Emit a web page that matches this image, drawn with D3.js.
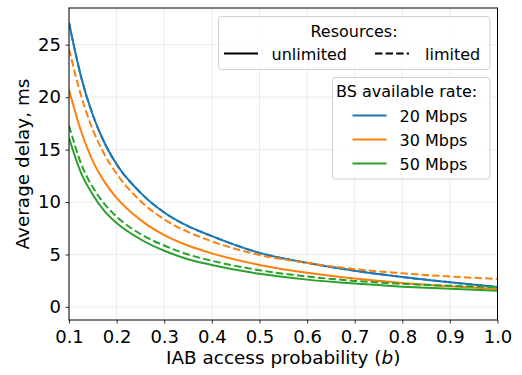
<!DOCTYPE html>
<html>
<head>
<meta charset="utf-8">
<script src="https://cdn.jsdelivr.net/npm/d3@7"></script>
<style>
  body { margin: 0; background: #fff; }
  svg { font-family: "DejaVu Sans", sans-serif; }
</style>
</head>
<body>
<div id="chart"></div>
<script>
// IAB access probability samples
const probs = [0.1, 0.125, 0.15, 0.175, 0.2, 0.25, 0.3, 0.35, 0.4, 0.5, 0.6, 0.7, 0.8, 0.9, 1.0];

// average delay (ms), unlimited resources
const unlimited20 = [27.1, 22.0, 18.3, 15.6, 13.6, 10.9, 9.0, 7.7, 6.75, 5.15, 4.2, 3.45, 2.85, 2.35, 1.9];
const unlimited30 = [20.7, 16.8, 13.9, 11.9, 10.4, 8.3, 6.85, 5.85, 5.1, 4.0, 3.25, 2.7, 2.28, 1.96, 1.7];
const unlimited50 = [16.1, 12.8, 10.7, 9.1, 8.0, 6.45, 5.35, 4.55, 4.0, 3.15, 2.6, 2.22, 1.93, 1.72, 1.55];

// average delay (ms), limited resources
const limited20 = [27.1, 22.0, 18.3, 15.6, 13.6, 10.9, 9.0, 7.7, 6.75, 5.15, 4.2, 3.45, 2.85, 2.35, 1.9];
const limited30 = [24.6, 20.2, 16.9, 14.5, 12.7, 10.1, 8.35, 7.15, 6.25, 4.95, 4.2, 3.6, 3.2, 2.9, 2.67];
const limited50 = [17.3, 13.7, 11.4, 9.8, 8.6, 6.95, 5.85, 5.0, 4.4, 3.5, 2.9, 2.48, 2.2, 2.02, 1.88];

const rateLabels = ['20 Mbps', '30 Mbps', '50 Mbps'];
const resourceLabels = ['unlimited', 'limited'];
const xTicks = [0.1, 0.2, 0.3, 0.4, 0.5, 0.6, 0.7, 0.8, 0.9, 1.0];
const yTicks = [0, 5, 10, 15, 20, 25];

const colors = ['#1f77b4', '#ff7f0e', '#2ca02c'];
const width = 522, height = 375;
const margin = { top: 8, right: 24.5, bottom: 55, left: 69 };

const svg = d3.select('#chart').append('svg')
  .attr('width', width)
  .attr('height', height);

const x = d3.scaleLinear().domain([0.1, 1.0]).range([margin.left, width - margin.right]);
const y = d3.scaleLinear().domain([-1.25, 28.5]).range([height - margin.bottom, margin.top]);

// grid
svg.append('g')
  .selectAll('line')
  .data(xTicks)
  .join('line')
  .attr('x1', d => x(d)).attr('x2', d => x(d))
  .attr('y1', y.range()[1]).attr('y2', y.range()[0])
  .attr('stroke', '#ebebeb').attr('stroke-width', 1);
svg.append('g')
  .selectAll('line')
  .data(yTicks)
  .join('line')
  .attr('x1', x.range()[0]).attr('x2', x.range()[1])
  .attr('y1', d => y(d)).attr('y2', d => y(d))
  .attr('stroke', '#ebebeb').attr('stroke-width', 1);

// series
const line = d3.line()
  .x((d, i) => x(probs[i]))
  .y(d => y(d))
  .curve(d3.curveMonotoneX);

const series = [
  { values: unlimited20, color: colors[0], dash: null },
  { values: unlimited30, color: colors[1], dash: null },
  { values: unlimited50, color: colors[2], dash: null },
  { values: limited20, color: colors[0], dash: '7.4,3.2' },
  { values: limited30, color: colors[1], dash: '7.4,3.2' },
  { values: limited50, color: colors[2], dash: '7.4,3.2' },
];

svg.append('clipPath').attr('id', 'clip')
  .append('rect')
  .attr('x', x.range()[0]).attr('y', y.range()[1])
  .attr('width', x.range()[1] - x.range()[0])
  .attr('height', y.range()[0] - y.range()[1]);

svg.append('g').attr('clip-path', 'url(#clip)')
  .selectAll('path')
  .data(series)
  .join('path')
  .attr('d', d => line(d.values))
  .attr('fill', 'none')
  .attr('stroke', d => d.color)
  .attr('stroke-width', 2)
  .attr('stroke-dasharray', d => d.dash);

// axes
const xAxis = svg.append('g')
  .attr('transform', `translate(0,${y.range()[0]})`)
  .call(d3.axisBottom(x).tickValues(xTicks).tickFormat(d3.format('.1f')).tickSizeOuter(0).tickSize(3.5).tickPadding(7));
const yAxis = svg.append('g')
  .attr('transform', `translate(${x.range()[0]},0)`)
  .call(d3.axisLeft(y).tickValues(yTicks).tickSizeOuter(0).tickSize(3.5).tickPadding(4.5));

[xAxis, yAxis].forEach(a => {
  a.select('.domain').remove();
  a.selectAll('text').attr('font-size', 18).attr('fill', '#000')
    .attr('font-family', '"DejaVu Sans", sans-serif');
  a.selectAll('line').attr('stroke', '#000').attr('stroke-width', 0.8);
});

// frame
svg.append('rect')
  .attr('x', x.range()[0]).attr('y', y.range()[1])
  .attr('width', x.range()[1] - x.range()[0])
  .attr('height', y.range()[0] - y.range()[1])
  .attr('fill', 'none').attr('stroke', '#000').attr('stroke-width', 1);

// axis labels
const xl = svg.append('text')
  .attr('x', (x.range()[0] + x.range()[1]) / 2)
  .attr('y', 363.5)
  .attr('text-anchor', 'middle')
  .attr('font-size', 18.4);
xl.append('tspan').text('IAB access probability (');
xl.append('tspan').attr('font-style', 'italic').text('b');
xl.append('tspan').text(')');

svg.append('text')
  .attr('transform', `translate(28.5,${(y.range()[0] + y.range()[1]) / 2}) rotate(-90)`)
  .attr('text-anchor', 'middle')
  .attr('font-size', 18.4)
  .text('Average delay, ms');

// legend: resources
const lg1 = svg.append('g');
lg1.append('rect')
  .attr('x', 218.5).attr('y', 16.5).attr('width', 271.5).attr('height', 53)
  .attr('rx', 3).attr('fill', 'rgba(255,255,255,0.8)')
  .attr('stroke', '#d0d0d0').attr('stroke-width', 1);
lg1.append('text')
  .attr('x', 354).attr('y', 37).attr('text-anchor', 'middle')
  .attr('font-size', 16).text('Resources:');
const resItems = [
  { label: resourceLabels[0], dash: null, x0: 224, tx: 271.5 },
  { label: resourceLabels[1], dash: '7.4,3.2', x0: 375, tx: 425 },
];
resItems.forEach(d => {
  lg1.append('line')
    .attr('x1', d.x0).attr('x2', d.x0 + 34)
    .attr('y1', 53.5).attr('y2', 53.5)
    .attr('stroke', '#000').attr('stroke-width', 2)
    .attr('stroke-dasharray', d.dash);
  lg1.append('text')
    .attr('x', d.tx).attr('y', 59.5)
    .attr('font-size', 16).text(d.label);
});

// legend: rates
const lg2 = svg.append('g');
lg2.append('rect')
  .attr('x', 332.5).attr('y', 77.5).attr('width', 157.5).attr('height', 101.5)
  .attr('rx', 3).attr('fill', 'rgba(255,255,255,0.8)')
  .attr('stroke', '#d0d0d0').attr('stroke-width', 1);
lg2.append('text')
  .attr('x', 336).attr('y', 97).attr('font-size', 16).text('BS available rate:');
rateLabels.forEach((label, i) => {
  const yy = 115.5 + i * 24;
  lg2.append('line')
    .attr('x1', 352.5).attr('x2', 386.5)
    .attr('y1', yy).attr('y2', yy)
    .attr('stroke', colors[i]).attr('stroke-width', 2);
  lg2.append('text')
    .attr('x', 399.5).attr('y', yy + 6).attr('font-size', 16).text(label);
});
</script>
</body>
</html>
